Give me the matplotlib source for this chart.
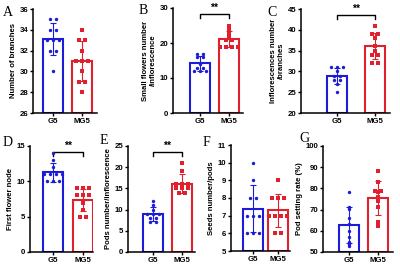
import numpy as np
import matplotlib
matplotlib.use("Agg")
import matplotlib.pyplot as plt

plt.rcParams['font.family'] = ['Liberation Sans', 'DejaVu Sans']
plt.rcParams['font.weight'] = 'bold'

groups = ["G5", "MG5"]

# raw points (per panel: G5, MG5)
branches_g5 = [35, 35, 34, 34, 33, 33, 33, 32, 32, 30]
branches_mg5 = [34, 33, 33, 32, 31, 31, 31, 30, 29, 29, 28]
flowers_g5 = [17, 17, 16, 16, 14, 13, 13, 12, 12, 12]
flowers_mg5 = [25, 24, 23, 22, 21, 21, 19, 19, 19, 19]
infl_g5 = [31, 31, 31, 30, 29, 29, 28, 28, 27, 25]
infl_mg5 = [41, 39, 39, 38, 36, 35, 34, 34, 32, 32]
node_g5 = [14, 13, 12, 11, 11, 11, 11, 10, 10, 10]
node_mg5 = [9, 9, 9, 8, 8, 8, 7, 6, 5, 5]
pods_g5 = [12, 11, 10, 9, 9, 9, 8, 8, 7, 7]
pods_mg5 = [21, 19, 16, 16, 16, 15, 15, 15, 14, 14]
seeds_g5 = [10, 9, 8, 8, 7, 7, 7, 6, 6, 6]
seeds_mg5 = [9, 8, 8, 8, 7, 7, 7, 7, 6, 6]
rate_g5 = [78.5, 71, 70.5, 66, 63, 60, 57, 54.5, 54, 53]
rate_mg5 = [88, 83, 79, 79, 78.5, 76, 74, 71, 64, 62.5]

letters = ["A", "B", "C", "D", "E", "F", "G"]
ylabels = ["Number of branches", "Small flowers number\n/inflorescence",
           "Inflorescences number\n/branches", "First flower node",
           "Pods number/inflorescence", "Seeds number/pods", "Pod setting rate (%)"]
yranges = [(26, 36, 2), (0, 30, 10), (20, 45, 5), (0, 15, 5), (0, 25, 5), (5, 11, 1), (50, 100, 10)]
signif = [False, True, True, True, True, False, False]
data = [(branches_g5, branches_mg5), (flowers_g5, flowers_mg5), (infl_g5, infl_mg5),
        (node_g5, node_mg5), (pods_g5, pods_mg5), (seeds_g5, seeds_mg5), (rate_g5, rate_mg5)]

# layout in pixels: left, right, top, bottom, px spacing between bars
W, H = 400, 265
boxes = [(33, 97, 9, 113, 29), (173, 243, 8, 113, 29), (301, 390, 9, 113, 37.5),
         (30, 93, 146, 252, 29.5), (128, 195, 146, 252, 29), (231, 290, 145, 251, 25),
         (323, 393, 146, 252, 29.5)]
centers0 = [53, 200, 337, 53, 153, 252.5, 348.5]
letter_pos = [(3, 12), (139, 11), (267, 12), (3, 143), (100, 140), (203, 143), (299, 138)]

blue = "#1c1cd8"
red = "#e0202c"
colors = [blue, red]
markers = ["o", "s"]

fig = plt.figure(figsize=(W / 100, H / 100), dpi=100)

for i in range(7):
    l, r, t, b, sp = boxes[i]
    ax = fig.add_axes([l / W, 1 - b / H, (r - l) / W, (b - t) / H])
    lo = -(centers0[i] - l) / sp
    hi = (r - centers0[i]) / sp
    y0, y1, ystep = yranges[i]
    bw = 20 / sp
    for k, vals in enumerate(data[i]):
        vals = np.array(vals, dtype=float)
        m, s = vals.mean(), vals.std(ddof=1)
        ax.bar(k, m - y0, bottom=y0, width=bw, facecolor="white", edgecolor=colors[k],
               linewidth=1.5, zorder=2)
        ax.errorbar(k, m, yerr=s, color=colors[k], capsize=2.5, capthick=0.8,
                    elinewidth=0.8, zorder=3)
        # spread equal values side by side
        xs = np.zeros(len(vals))
        for v in np.unique(vals):
            idx = np.where(vals == v)[0]
            n = len(idx)
            xs[idx] = (np.arange(n) - (n - 1) / 2) * (6 / sp)
        ax.scatter(k + xs, vals, s=6, color=colors[k], marker=markers[k], zorder=4,
                   linewidths=0)
    if signif[i]:
        yb = y1 - (y1 - y0) * 0.06
        tick = (y1 - y0) * 0.035
        ax.plot([0, 0, 1, 1], [yb - tick, yb, yb, yb - tick], color="black", lw=1,
                clip_on=False)
        ax.text(0.5, yb + (y1 - y0) * 0.01, "**", ha="center", va="bottom",
                fontsize=7.5, fontweight="bold")
    ax.set_xlim(lo, hi)
    ax.set_ylim(y0, y1)
    ax.set_yticks(np.arange(y0, y1 + ystep / 2, ystep))
    ax.set_xticks([0, 1])
    ax.set_xticklabels(groups)
    ax.spines["top"].set_visible(False)
    ax.spines["right"].set_visible(False)
    ax.spines["left"].set_linewidth(1.1)
    ax.spines["bottom"].set_linewidth(1.1)
    ax.tick_params(labelsize=5.6, length=2.5, width=1, pad=1)
    ax.set_ylabel(ylabels[i], fontsize=5.6, fontweight="bold", labelpad=2, linespacing=1.1)
    fig.text(letter_pos[i][0] / W, 1 - letter_pos[i][1] / H, letters[i],
             family="Liberation Serif", fontweight="normal", fontsize=10, va="center")

fig.savefig("out.png", dpi=100)
